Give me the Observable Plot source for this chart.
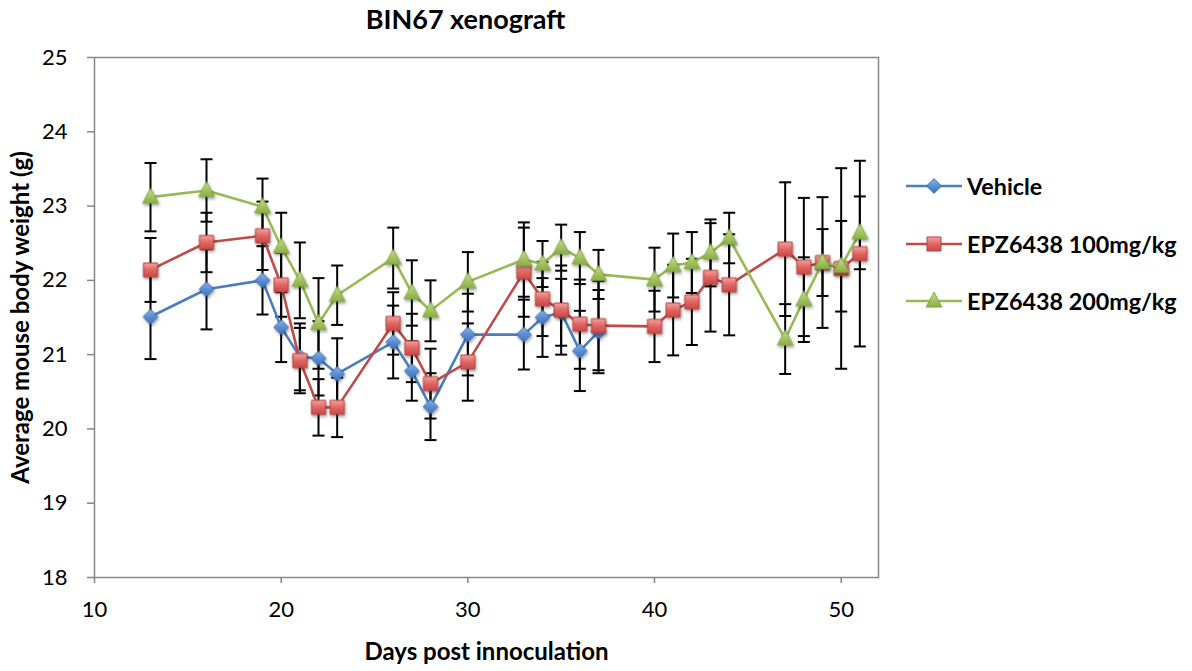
<!DOCTYPE html>
<html><head><meta charset="utf-8">
<script src="https://cdn.jsdelivr.net/npm/d3@7"></script>
<script src="https://cdn.jsdelivr.net/npm/@observablehq/plot@0.6"></script>
<style>
body{margin:0;background:#fff;font-family:Lato,"Open Sans",sans-serif;}
#wrap{position:relative;width:1192px;height:671px;}
#legend{position:absolute;left:906px;top:169px;}
.row{display:flex;align-items:center;height:34px;margin-bottom:23.5px;font-weight:bold;font-size:23.3px;color:#000;white-space:nowrap;}
.row svg{margin-right:5px;overflow:visible;}
g[fill^="url"]{filter:drop-shadow(1px 2px 1.5px rgba(0,0,0,0.35));}
</style></head>
<body>
<svg width="0" height="0" style="position:absolute">
<defs>
<linearGradient id="gBlue" x1="0" y1="0" x2="0" y2="1"><stop offset="0" stop-color="#8fb3e6"/><stop offset="0.5" stop-color="#5b8fd3"/><stop offset="1" stop-color="#3f74ba"/></linearGradient>
<linearGradient id="gRed" x1="0" y1="0" x2="0" y2="1"><stop offset="0" stop-color="#f3a3a1"/><stop offset="0.5" stop-color="#e06663"/><stop offset="1" stop-color="#c94a47"/></linearGradient>
<linearGradient id="gGreen" x1="0" y1="0" x2="0" y2="1"><stop offset="0" stop-color="#c6e18e"/><stop offset="0.5" stop-color="#a6c865"/><stop offset="1" stop-color="#8aae47"/></linearGradient>
</defs></svg>
<div id="wrap">
<div id="legend"></div>
</div>
<script>
// ---- data ----
const vehicleDays = [13,16,19,20,21,22,23,26,27,28,30,33,34,35,36,37];
const vehicleMean = [21.51,21.88,22.00,21.37,20.97,20.95,20.74,21.17,20.78,20.30,21.27,21.27,21.50,21.57,21.05,21.31];
const vehicleErr  = [0.57,0.54,0.46,0.47,0.45,0.50,0.48,0.49,0.40,0.45,0.55,0.47,0.53,0.45,0.54,0.56];

const epzDays = [13,16,19,20,21,22,23,26,27,28,30,33,34,35,36,37,40,41,42,43,44,47,48,49,50,51];
const epz100Mean = [22.14,22.51,22.60,21.94,20.92,20.29,20.29,21.42,21.09,20.61,20.90,22.11,21.75,21.60,21.41,21.39,21.38,21.60,21.71,22.04,21.94,22.42,22.18,22.24,22.16,22.36];
const epz100Err  = [0.43,0.40,0.46,0.43,0.44,0.38,0.40,0.42,0.46,0.47,0.52,0.60,0.50,0.60,0.60,0.60,0.48,0.61,0.58,0.73,0.68,0.90,0.93,0.88,1.35,1.25];
const epz200Mean = [23.12,23.21,22.99,22.45,22.00,21.42,21.80,22.30,21.83,21.59,21.98,22.28,22.22,22.44,22.30,22.08,22.01,22.20,22.24,22.37,22.57,21.21,21.74,22.24,22.19,22.64];
const epz200Err  = [0.46,0.42,0.38,0.46,0.51,0.61,0.40,0.41,0.44,0.41,0.40,0.50,0.31,0.31,0.35,0.33,0.43,0.43,0.41,0.45,0.34,0.47,0.57,0.45,0.61,0.49];

const seriesNames = ["Vehicle","EPZ6438 100mg/kg","EPZ6438 200mg/kg"];
const xTicks = [10,20,30,40,50];
const yTicks = [18,19,20,21,22,23,24,25];
const titleText = "BIN67 xenograft";
const xLabel = "Days post innoculation";
const yLabel = "Average mouse body weight (g)";

// ---- symbols ----
const diamondSym = {draw(c, size){const r=Math.sqrt(size/Math.PI);c.moveTo(0,-r);c.lineTo(r,0);c.lineTo(0,r);c.lineTo(-r,0);c.closePath();}};
const squareSym = {draw(c, size){const r=Math.sqrt(size/Math.PI)*0.95;c.moveTo(-r,-r);c.lineTo(r,-r);c.lineTo(r,r);c.lineTo(-r,r);c.closePath();}};
const triSym = {draw(c, size){const r=Math.sqrt(size/Math.PI);c.moveTo(0,-r*1.25);c.lineTo(r*1.1,r*0.85);c.lineTo(-r*1.1,r*0.85);c.closePath();}};
const capSym = {draw(c, size){const r=Math.sqrt(size/Math.PI);c.moveTo(-r,0);c.lineTo(r,0);}};

function rows(days, mean, err){return days.map((d,i)=>({day:d, y:mean[i], lo:mean[i]-err[i], hi:mean[i]+err[i]}));}
const veh = rows(vehicleDays, vehicleMean, vehicleErr);
const e100 = rows(epzDays, epz100Mean, epz100Err);
const e200 = rows(epzDays, epz200Mean, epz200Err);
const allErr = [...veh, ...e100, ...e200];

const styles = [
  {data: veh, line:"#4a7ebb", fill:"url(#gBlue)", stroke:"#3d6db0", sym: diamondSym, r: 7.4},
  {data: e100, line:"#be4b48", fill:"url(#gRed)", stroke:"#b94441", sym: squareSym, r: 7.4},
  {data: e200, line:"#98b954", fill:"url(#gGreen)", stroke:"#88ac46", sym: triSym, r: 7.2}
];

const seriesMarks = styles.flatMap(s => [
  Plot.line(s.data, {x:"day", y:"y", stroke:s.line, strokeWidth:2.6}),
  Plot.dot(s.data, {x:"day", y:"y", symbol:s.sym, r:s.r, fill:s.fill, stroke:s.stroke, strokeWidth:1})
]);

const chart = Plot.plot({
  width: 1192, height: 671,
  marginLeft: 94, marginRight: 314, marginTop: 57, marginBottom: 94,
  style: {fontFamily: "Lato, 'Open Sans', sans-serif", background: "transparent", color: "#000"},
  x: {domain: [10, 52]},
  y: {domain: [18, 25]},
  marks: [
    Plot.frame({stroke: "#878787", strokeWidth: 1.5}),
    Plot.axisX(xTicks, {tickSize: 6, tickPadding: 18, fontSize: 22, stroke: "#878787", strokeWidth: 1.5, label: null, tickFormat: d => String(d)}),
    Plot.axisY(yTicks, {tickSize: 7, tickPadding: 20, fontSize: 22, stroke: "#878787", strokeWidth: 1.5, label: null, tickFormat: d => String(d)}),
    Plot.text([yLabel], {frameAnchor: "left", dx: -73, rotate: -90, textAnchor: "middle", lineAnchor: "middle", text: d => d, fontSize: 24, fontWeight: "bold"}),
    Plot.text([xLabel], {frameAnchor: "bottom", dy: 75, textAnchor: "middle", lineAnchor: "middle", text: d => d, fontSize: 24, fontWeight: "bold"}),
    Plot.text([titleText], {frameAnchor: "top", dy: -37, dx: -21, textAnchor: "middle", lineAnchor: "middle", text: d => d, fontSize: 27, fontWeight: "bold"}),
    Plot.ruleX(allErr, {x:"day", y1:"lo", y2:"hi", stroke:"black", strokeWidth:2}),
    Plot.dot(allErr, {x:"day", y:"lo", symbol: capSym, r:6, stroke:"black", strokeWidth:2, fill:"none"}),
    Plot.dot(allErr, {x:"day", y:"hi", symbol: capSym, r:6, stroke:"black", strokeWidth:2, fill:"none"}),
    ...seriesMarks
  ]
});
document.getElementById("wrap").prepend(chart);

// legend
const legend = d3.select("#legend");
styles.forEach((s, i) => {
  const row = legend.append("div").attr("class","row");
  const svg = row.append("svg").attr("width",56).attr("height",20);
  svg.append("line").attr("x1",0).attr("x2",56).attr("y1",10).attr("y2",10).attr("stroke",s.line).attr("stroke-width",2.6);
  const p = d3.path(); s.sym.draw(p, Math.PI*s.r*s.r);
  svg.append("path").attr("d", p.toString()).attr("transform","translate(28,10)").attr("fill",s.fill).attr("stroke",s.stroke);
  row.append("span").text(seriesNames[i]);
});
</script>
</body></html>
